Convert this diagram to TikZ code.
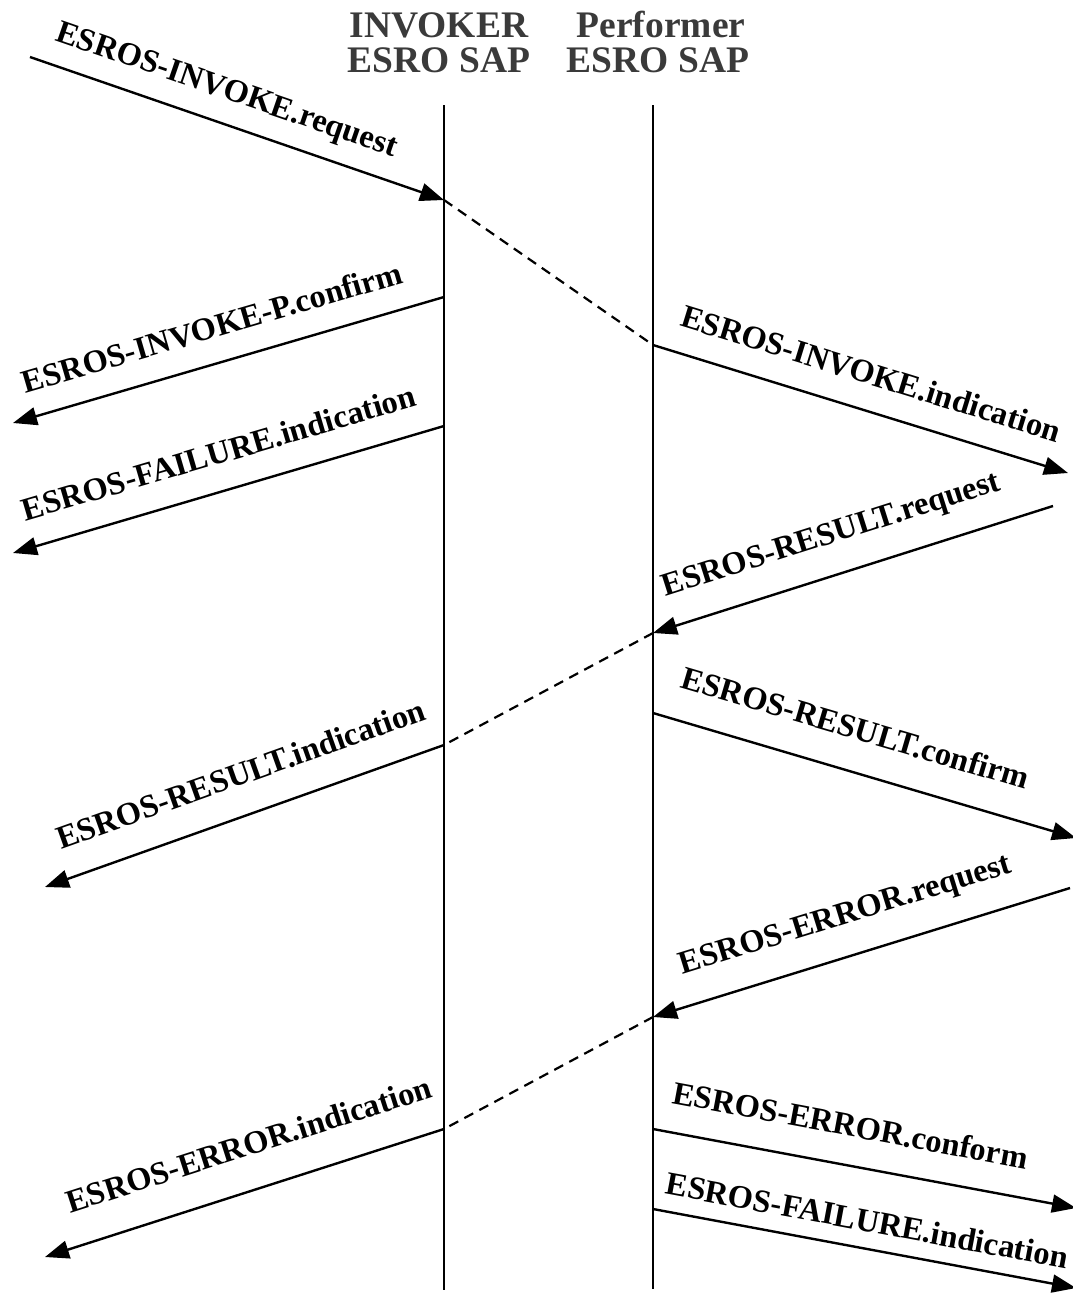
\documentclass[tikz,border=0pt]{standalone}
\usepackage{fontspec}
\setmainfont{Liberation Serif}
\usetikzlibrary{arrows.meta}
\definecolor{headgray}{RGB}{58,58,58}
% raise a label's baseline above the arrow it belongs to
\newcommand{\lift}[2]{\raisebox{#1}{#2}}
\begin{document}
\begin{tikzpicture}[x=1pt,y=-1pt,
  life/.style={line width=2.4pt},
  msg/.style={line width=2.4pt,-{Triangle[length=24pt,width=18pt]}},
  relay/.style={line width=2.2pt,dash pattern=on 10pt off 7pt},
  lbl/.style={sloped,anchor=base,inner sep=0pt,font=\fontsize{32.5}{36}\selectfont\bfseries},
  head/.style={anchor=base,inner sep=0pt,text=headgray,font=\fontsize{37.5}{40}\selectfont\bfseries}]
\useasboundingbox (0,0) rectangle (1072,1294);

% column headings
\node[head] (hInvA) at (439,37) {INVOKER};
\node[head] (hInvB) at (439,72) {ESRO SAP};
\node[head] (hPerA) at (661,37) {Performer};
\node[head] (hPerB) at (658,72) {ESRO SAP};

% lifelines
\coordinate (iTop) at (444,105);
\coordinate (iBot) at (444,1290);
\coordinate (pTop) at (653,105);
\coordinate (pBot) at (653,1289);
\draw[life] (iTop) -- (iBot);
\draw[life] (pTop) -- (pBot);

% message end points
\coordinate (src) at (30,57);
\coordinate (i1)  at (444,200);
\coordinate (p1)  at (653,345);
\coordinate (i2)  at (444,297);
\coordinate (c2)  at (13,423);
\coordinate (i3)  at (444,426);
\coordinate (c3)  at (13,553);
\coordinate (c4)  at (1068,473);
\coordinate (c5)  at (1053,506);
\coordinate (p5)  at (653,633);
\coordinate (i6)  at (444,745);
\coordinate (c6)  at (45,887);
\coordinate (p7)  at (653,713);
\coordinate (c7)  at (1076,838);
\coordinate (c8)  at (1070,888);
\coordinate (p8)  at (653,1017);
\coordinate (i9)  at (444,1129);
\coordinate (c9)  at (45,1257);
\coordinate (p10) at (653,1129);
\coordinate (c10) at (1076,1208);
\coordinate (p11) at (653,1209);
\coordinate (c11) at (1076,1288);

% invoke
\draw[msg] (src) -- node[lbl,pos=.45] (l1) {\lift{24pt}{ESROS-INVOKE.request}} (i1);
\draw[relay] (i1) -- (p1);
\draw[msg] (i2) -- node[lbl,pos=.515] (l2) {\lift{25pt}{ESROS-INVOKE-P.confirm}} (c2);
\draw[msg] (i3) -- node[lbl,pos=.498] (l3) {\lift{27pt}{ESROS-FAILURE.indication}} (c3);
\draw[msg] (p1) -- node[lbl,pos=.50] (l4) {\lift{26pt}{ESROS-INVOKE.indication}} (c4);

% result
\draw[msg] (c5) -- node[lbl,pos=.525] (l5) {\lift{31pt}{ESROS-RESULT.request}} (p5);
\draw[relay] (p5) -- (i6);
\draw[msg] (i6) -- node[lbl,pos=.475] (l6) {\lift{30pt}{ESROS-RESULT.indication}} (c6);
\draw[msg] (p7) -- node[lbl,pos=.45] (l7) {\lift{32pt}{ESROS-RESULT.confirm}} (c7);

% error
\draw[msg] (c8) -- node[lbl,pos=.51] (l8) {\lift{32pt}{ESROS-ERROR.request}} (p8);
\draw[relay] (p8) -- (i9);
\draw[msg] (i9) -- node[lbl,pos=.455] (l9) {\lift{34pt}{ESROS-ERROR.indication}} (c9);
\draw[msg] (p10) -- node[lbl,pos=.45] (l10) {\lift{29pt}{ESROS-ERROR.conform}} (c10);
\draw[msg] (p11) -- node[lbl,pos=.495] (l11) {\lift{17pt}{ESROS-FAILURE.indication}} (c11);
\end{tikzpicture}
\end{document}
